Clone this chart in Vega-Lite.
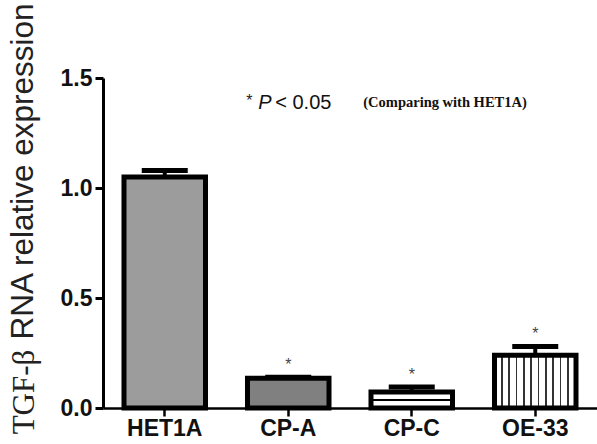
{
  "$schema": "https://vega.github.io/schema/vega-lite/v6.json",
  "width": 494,
  "height": 330,
  "autosize": {"type": "none"},
  "padding": {"left": 103, "top": 78, "right": 0, "bottom": 36},
  "background": "white",
  "config": {"view": {"stroke": null}, "font": "Liberation Sans"},
  "data": {"values": [
    {"group": "HET1A", "value": 1.05, "upper": 1.08, "star": ""},
    {"group": "CP-A", "value": 0.135, "upper": 0.14, "star": "*"},
    {"group": "CP-C", "value": 0.073, "upper": 0.095, "star": "*"},
    {"group": "OE-33", "value": 0.24, "upper": 0.28, "star": "*"}
  ]},
  "encoding": {
    "x": {"field": "group", "type": "nominal", "sort": null,
      "scale": {"paddingInner": 0.34, "paddingOuter": 0.17},
      "axis": {"title": null, "labelAngle": 0, "labelFont": "Liberation Sans", "labelFontWeight": "bold", "labelFontSize": 23, "labelColor": "#111", "domainColor": "#000", "domainWidth": 2.5, "tickColor": "#000", "tickWidth": 2.5, "tickSize": 8, "labelPadding": 1}}
  },
  "layer": [
    {"transform": [{"filter": "datum.group === 'HET1A'"}],
     "mark": {"type": "bar", "fill": "#9c9c9c", "stroke": "#000", "strokeWidth": 5},
     "encoding": {"y": {"field": "value", "type": "quantitative",
       "scale": {"domain": [0, 1.5], "nice": false},
       "axis": {"values": [0, 0.5, 1, 1.5], "format": ".1f", "grid": false,
         "labelFont": "Liberation Sans", "labelFontWeight": "bold", "labelFontSize": 23, "labelColor": "#111",
         "domainColor": "#000", "domainWidth": 3, "tickColor": "#000", "tickWidth": 3, "tickSize": 8, "labelPadding": 3,
         "title": "RNA relative expression", "titleFont": "Liberation Sans", "titleFontWeight": "normal", "titleFontSize": 31.5, "titleColor": "#222",
         "titleX": -80, "titleY": 93, "titleAngle": 270, "titleAlign": "center", "titleBaseline": "middle"}}}},
    {"transform": [{"filter": "datum.group === 'CP-A'"}],
     "mark": {"type": "bar", "fill": "#808080", "stroke": "#000", "strokeWidth": 5},
     "encoding": {"y": {"field": "value", "type": "quantitative", "scale": {"domain": [0, 1.5], "nice": false}}}},
    {"transform": [{"filter": "datum.group === 'CP-C'"}],
     "mark": {"type": "bar", "stroke": "#000", "strokeWidth": 5,
       "fill": {"gradient": "linear", "x1": 0, "y1": 0, "x2": 0, "y2": 1, "stops": [
         {"offset": 0, "color": "#fff"}, {"offset": 0.42, "color": "#fff"}, {"offset": 0.42, "color": "#000"},
         {"offset": 0.58, "color": "#000"}, {"offset": 0.58, "color": "#fff"}, {"offset": 1, "color": "#fff"}]}},
     "encoding": {"y": {"field": "value", "type": "quantitative", "scale": {"domain": [0, 1.5], "nice": false}}}},
    {"transform": [{"filter": "datum.group === 'OE-33'"}],
     "mark": {"type": "bar", "stroke": "#000", "strokeWidth": 5,
       "fill": {"gradient": "linear", "x1": 0, "y1": 0, "x2": 1, "y2": 0, "stops": [
         {"offset": 0.0, "color": "#fff"},
         {"offset": 0.08, "color": "#fff"}, {"offset": 0.08, "color": "#333"}, {"offset": 0.1, "color": "#333"}, {"offset": 0.1, "color": "#fff"},
         {"offset": 0.17, "color": "#fff"}, {"offset": 0.17, "color": "#333"}, {"offset": 0.19, "color": "#333"}, {"offset": 0.19, "color": "#fff"},
         {"offset": 0.26, "color": "#fff"}, {"offset": 0.26, "color": "#333"}, {"offset": 0.28, "color": "#333"}, {"offset": 0.28, "color": "#fff"},
         {"offset": 0.35, "color": "#fff"}, {"offset": 0.35, "color": "#333"}, {"offset": 0.37, "color": "#333"}, {"offset": 0.37, "color": "#fff"},
         {"offset": 0.44, "color": "#fff"}, {"offset": 0.44, "color": "#333"}, {"offset": 0.46, "color": "#333"}, {"offset": 0.46, "color": "#fff"},
         {"offset": 0.53, "color": "#fff"}, {"offset": 0.53, "color": "#333"}, {"offset": 0.55, "color": "#333"}, {"offset": 0.55, "color": "#fff"},
         {"offset": 0.62, "color": "#fff"}, {"offset": 0.62, "color": "#333"}, {"offset": 0.64, "color": "#333"}, {"offset": 0.64, "color": "#fff"},
         {"offset": 0.71, "color": "#fff"}, {"offset": 0.71, "color": "#333"}, {"offset": 0.73, "color": "#333"}, {"offset": 0.73, "color": "#fff"},
         {"offset": 0.80, "color": "#fff"}, {"offset": 0.80, "color": "#333"}, {"offset": 0.82, "color": "#333"}, {"offset": 0.82, "color": "#fff"},
         {"offset": 0.89, "color": "#fff"}, {"offset": 0.89, "color": "#333"}, {"offset": 0.91, "color": "#333"}, {"offset": 0.91, "color": "#fff"},
         {"offset": 1, "color": "#fff"}]}},
     "encoding": {"y": {"field": "value", "type": "quantitative", "scale": {"domain": [0, 1.5], "nice": false}}}},
    {"mark": {"type": "rule", "color": "#000", "strokeWidth": 4},
     "encoding": {"y": {"field": "value", "type": "quantitative", "scale": {"domain": [0, 1.5], "nice": false}}, "y2": {"field": "upper"}}},
    {"mark": {"type": "tick", "color": "#000", "opacity": 1, "size": 46, "thickness": 5, "orient": "horizontal"},
     "encoding": {"y": {"field": "upper", "type": "quantitative", "scale": {"domain": [0, 1.5], "nice": false}}}},
    {"mark": {"type": "text", "fontSize": 16, "color": "#444", "dy": -12, "baseline": "middle"},
     "encoding": {"y": {"field": "upper", "type": "quantitative", "scale": {"domain": [0, 1.5], "nice": false}}, "text": {"field": "star"}}},
    {"data": {"values": [{"label": "annotations"}]},
     "layer": [
       {"mark": {"type": "text", "text": "*", "align": "left", "baseline": "middle", "fontSize": 16, "color": "#222", "dx": -42, "dy": -2},
        "encoding": {"x": {"datum": "CP-A"}, "y": {"datum": 1.386, "scale": {"domain": [0, 1.5], "nice": false}}}},
       {"mark": {"type": "text", "text": "P", "align": "left", "baseline": "middle", "fontSize": 20, "fontStyle": "italic", "color": "#111", "dx": -30},
        "encoding": {"x": {"datum": "CP-A"}, "y": {"datum": 1.386, "scale": {"domain": [0, 1.5], "nice": false}}}},
       {"mark": {"type": "text", "text": "< 0.05", "align": "left", "baseline": "middle", "fontSize": 20, "color": "#111", "dx": -13},
        "encoding": {"x": {"datum": "CP-A"}, "y": {"datum": 1.386, "scale": {"domain": [0, 1.5], "nice": false}}}},
       {"mark": {"type": "text", "text": "(Comparing with HET1A)", "align": "left", "baseline": "middle", "fontSize": 14.5, "font": "Liberation Serif", "fontWeight": "bold", "color": "#111", "dx": 75},
        "encoding": {"x": {"datum": "CP-A"}, "y": {"datum": 1.386, "scale": {"domain": [0, 1.5], "nice": false}}}},
       {"mark": {"type": "text", "text": "TGF-β", "align": "center", "baseline": "middle", "angle": 270, "fontSize": 31, "font": "Liberation Serif", "color": "#222", "dx": 16, "dy": -140},
        "encoding": {"x": {"datum": "HET1A"}, "y": {"datum": 0, "scale": {"domain": [0, 1.5], "nice": false}}}}
     ]}
  ]
}
